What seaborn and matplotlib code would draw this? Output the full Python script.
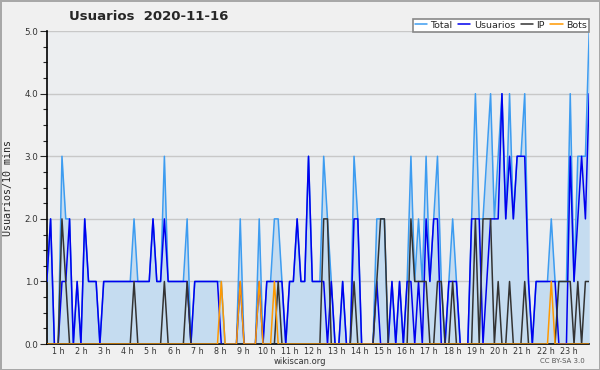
"""
usuarios por 10 minutos, estilo wikiscan
"""

import seaborn as sns
import matplotlib.pyplot as plt
import pandas as pd
import numpy as np

# valores por tramo de 10 minutos (144 tramos)
total = [1, 2, 0, 0, 3, 2, 2, 0, 1, 0,
         2, 1, 1, 1, 0, 1, 1, 1, 1, 1,
         1, 1, 1, 2, 1, 1, 1, 1, 2, 1,
         1, 3, 1, 1, 1, 1, 1, 2, 0, 1,
         1, 1, 1, 1, 1, 1, 1, 0, 0, 0,
         0, 2, 0, 0, 0, 0, 2, 0, 1, 1,
         2, 2, 1, 0, 1, 1, 2, 1, 1, 3,
         1, 1, 1, 3, 2, 1, 0, 0, 1, 0,
         0, 3, 2, 0, 0, 0, 0, 2, 2, 2,
         0, 1, 0, 1, 0, 1, 3, 1, 2, 1,
         3, 1, 2, 3, 1, 0, 1, 2, 1, 0,
         0, 0, 2, 4, 2, 2, 3, 4, 2, 3,
         4, 2, 4, 2, 3, 3, 4, 1, 0, 1,
         1, 1, 1, 2, 1, 1, 1, 1, 4, 1,
         3, 3, 3, 5]

usuarios = [1, 2, 0, 0, 1, 1, 2, 0, 1, 0,
            2, 1, 1, 1, 0, 1, 1, 1, 1, 1,
            1, 1, 1, 1, 1, 1, 1, 1, 2, 1,
            1, 2, 1, 1, 1, 1, 1, 1, 0, 1,
            1, 1, 1, 1, 1, 1, 0, 0, 0, 0,
            0, 1, 0, 0, 0, 0, 1, 0, 1, 1,
            1, 1, 1, 0, 1, 1, 2, 1, 1, 3,
            1, 1, 1, 1, 0, 1, 0, 0, 1, 0,
            0, 2, 2, 0, 0, 0, 0, 1, 0, 0,
            0, 1, 0, 1, 0, 1, 1, 0, 1, 0,
            2, 1, 2, 2, 0, 0, 1, 1, 1, 0,
            0, 0, 2, 2, 2, 0, 1, 2, 2, 2,
            4, 2, 3, 2, 3, 3, 3, 1, 0, 1,
            1, 1, 1, 1, 1, 0, 0, 0, 3, 1,
            2, 3, 2, 4]

ip = [0, 0, 0, 0, 2, 1, 0, 0, 0, 0,
      0, 0, 0, 0, 0, 0, 0, 0, 0, 0,
      0, 0, 0, 1, 0, 0, 0, 0, 0, 0,
      0, 1, 0, 0, 0, 0, 0, 1, 0, 0,
      0, 0, 0, 0, 0, 0, 0, 0, 0, 0,
      0, 0, 0, 0, 0, 0, 0, 0, 0, 0,
      0, 1, 0, 0, 0, 0, 0, 0, 0, 0,
      0, 0, 0, 2, 2, 0, 0, 0, 0, 0,
      0, 1, 0, 0, 0, 0, 0, 1, 2, 2,
      0, 0, 0, 0, 0, 0, 2, 1, 1, 1,
      1, 0, 0, 1, 1, 0, 0, 1, 0, 0,
      0, 0, 0, 2, 0, 2, 2, 2, 0, 1,
      0, 0, 1, 0, 0, 0, 1, 0, 0, 0,
      0, 0, 0, 0, 0, 1, 1, 1, 1, 0,
      1, 0, 1, 1]

bots = [0, 0, 0, 0, 0, 0, 0, 0, 0, 0,
        0, 0, 0, 0, 0, 0, 0, 0, 0, 0,
        0, 0, 0, 0, 0, 0, 0, 0, 0, 0,
        0, 0, 0, 0, 0, 0, 0, 0, 0, 0,
        0, 0, 0, 0, 0, 0, 1, 0, 0, 0,
        0, 1, 0, 0, 0, 0, 1, 0, 0, 0,
        1, 0, 0, 0, 0, 0, 0, 0, 0, 0,
        0, 0, 0, 0, 0, 0, 0, 0, 0, 0,
        0, 0, 0, 0, 0, 0, 0, 0, 0, 0,
        0, 0, 0, 0, 0, 0, 0, 0, 0, 0,
        0, 0, 0, 0, 0, 0, 0, 0, 0, 0,
        0, 0, 0, 0, 0, 0, 0, 0, 0, 0,
        0, 0, 0, 0, 0, 0, 0, 0, 0, 0,
        0, 0, 0, 1, 0, 0, 0, 0, 0, 0,
        0, 0, 0, 0]

series = ["Total", "Usuarios", "IP", "Bots"]
colores = ["#3d9cf0", "#0000ee", "#333333", "#ff9900"]
horas = [f"{h} h" for h in range(1, 24)]

df = pd.DataFrame({"slot": np.arange(len(total)), "Total": total,
                   "Usuarios": usuarios, "IP": ip, "Bots": bots})
df_long = df.melt(id_vars="slot", var_name="serie", value_name="valor")

sns.set_style("white")
plt.rcParams["font.family"] = ["DejaVu Sans"]

fig, ax = plt.subplots(figsize=(6, 3.7), dpi=100)
fig.patch.set_facecolor("#f0f0f0")
fig.patch.set_edgecolor("#a8a8a8")
fig.patch.set_linewidth(2)
fig.subplots_adjust(left=0.078, right=0.982, top=0.916, bottom=0.070)
ax.set_facecolor("#eceef0")

ax.fill_between(df["slot"], df["Total"], color="#c5dcf0", lw=0, zorder=1)
sns.lineplot(data=df_long, x="slot", y="valor", hue="serie", hue_order=series,
             palette=colores, linewidth=1.1, ax=ax, zorder=3)

handles, labels = ax.get_legend_handles_labels()
ax.get_legend().remove()
leg = fig.legend(handles, labels, loc="upper right", bbox_to_anchor=(0.989, 0.962),
                 ncol=4, fontsize=6.8, handlelength=1.3, handletextpad=0.35,
                 columnspacing=0.6, frameon=True, fancybox=False,
                 borderpad=0.2, framealpha=1)
leg.get_frame().set_edgecolor("#888888")
leg.get_frame().set_linewidth(1.2)
leg.get_frame().set_facecolor("#ffffff")

ax.set_xlim(0, len(total) - 1)
ax.set_ylim(0, 5)

# posiciones de las etiquetas de hora tomadas del original
hour_pos = [(11 + 23.2 * (h - 1)) / 3.79 for h in range(1, 24)]
ax.set_xticks(hour_pos)
ax.set_xticklabels(horas)
ax.set_xticks(np.arange(len(total)), minor=True)
ax.tick_params(axis="x", which="major", length=0, pad=2, labelsize=5.8, labelcolor="#333333")
ax.tick_params(axis="x", which="minor", length=3.5, width=0.8, color="black", direction="out")

ax.set_yticks(np.arange(0, 6, 1))
ax.set_yticklabels([f"{v:.1f}" for v in np.arange(0, 6, 1)])
ax.set_yticks(np.arange(0, 5.01, 0.25), minor=True)
ax.tick_params(axis="y", which="major", length=5, width=0.8, pad=1,
               labelsize=6.3, labelcolor="#333333", direction="out", left=True)
ax.tick_params(axis="y", which="minor", length=3, width=0.8, direction="out", left=True)

ax.yaxis.grid(True, color="#c8c8c8", linewidth=1)
ax.set_axisbelow(True)
ax.spines[["right", "top"]].set_visible(False)
ax.spines[["left", "bottom"]].set_color("black")
ax.spines[["left", "bottom"]].set_linewidth(1.2)

ax.set_xlabel("")
ax.set_ylabel("Usuarios/10 mins", fontsize=7.2, family="DejaVu Sans Mono", labelpad=8)

fig.text(0.247, 0.955, "Usuarios  2020-11-16", ha="center", va="center",
         fontsize=9.5, fontweight="bold")
fig.text(0.5, 0.023, "wikiscan.org", ha="center", va="center", fontsize=6, color="#333333")
fig.text(0.938, 0.023, "CC BY-SA 3.0", ha="center", va="center", fontsize=5, color="#555555")

fig.savefig("out.png", dpi=100)
